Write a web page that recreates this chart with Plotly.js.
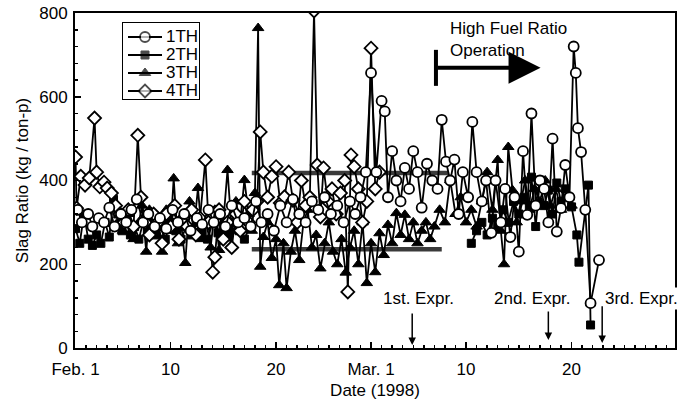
<!DOCTYPE html>
<html><head><meta charset="utf-8">
<script src="https://cdn.plot.ly/plotly-3.0.1.min.js"></script>
<style>html,body{margin:0;padding:0;background:#fff}#c{width:695px;height:403px}</style>
</head><body><div id="c"></div>
<script>
// Day index: 1 = Feb. 1, 29 = Mar. 1 (1998)
const tickDays = [1, 10, 20, 29, 38, 48];
const tickLabels = ["Feb. 1", "10", "20", "Mar. 1", "10", "20"];
const seriesNames = ["1TH", "2TH", "3TH", "4TH"];

const th1Days = [1.2,1.6,2.2,2.6,3.2,3.7,4.2,4.7,5.3,5.8,6.3,6.8,7.4,7.9,8.5,9.0,9.6,10.2,10.7,11.3,11.9,12.5,13.0,13.6,14.1,14.7,15.2,15.8,16.4,17.0,17.6,18.1,18.6,19.2,19.8,20.4,21.0,21.6,22.2,22.8,23.4,24.0,24.6,25.2,25.8,26.4,27.0,27.5,28.0,28.5,29.0,29.5,30.0,30.3,30.6,31.0,31.4,31.8,32.2,32.6,33.0,33.4,33.8,34.3,34.8,35.3,35.7,36.1,36.5,36.9,37.3,37.7,38.2,38.6,39.0,39.5,39.9,40.4,40.8,41.3,41.7,42.2,42.6,43.0,43.4,43.8,44.2,44.6,45.0,45.4,45.8,46.2,46.6,47.0,47.4,47.8,48.2,48.4,48.6,48.9,49.3,49.8,50.6];
const th1Vals = [330,300,320,290,310,300,335,290,320,300,330,355,300,320,290,310,285,330,300,320,280,310,295,330,300,320,290,340,300,310,290,350,300,320,280,340,300,355,320,300,350,330,360,320,340,300,350,320,360,420,657,420,590,565,360,470,400,350,430,380,470,420,335,440,400,380,545,445,400,450,320,420,360,540,420,350,400,275,400,300,380,265,360,230,470,318,560,340,400,380,300,500,278,334,437,360,720,657,525,468,330,107,210];

const th2Days = [1.0,1.4,1.8,2.2,2.6,3.0,3.4,3.8,4.2,4.6,5.0,5.4,5.8,6.2,6.6,7.0,7.4,7.8,8.2,8.6,9.0,9.5,10.0,10.5,11.0,11.5,12.0,12.5,13.0,13.5,14.0,14.5,15.0,15.5,16.0,16.5,17.0,17.5,null,38.5,39.0,39.5,40.0,40.5,41.0,41.5,42.0,42.5,43.0,43.5,44.0,44.2,44.6,45.0,45.4,45.8,46.2,46.6,47.0,47.4,48.0,48.5,48.7,49.6,49.8];
const th2Vals = [285,250,320,260,245,270,250,300,265,355,320,280,300,270,290,260,300,280,300,270,290,260,300,280,260,290,270,300,280,260,300,275,290,265,300,280,260,290,null,250,280,300,270,310,290,330,300,350,320,360,340,408,290,401,340,377,320,394,350,380,337,270,205,389,55];

const th3Days = [5.0,5.5,6.0,6.5,7.0,7.3,7.7,8.0,8.4,8.8,9.2,9.6,10.0,10.3,10.7,11.0,11.4,11.8,12.2,12.6,13.0,13.4,13.8,14.2,14.6,15.0,15.4,15.8,16.2,16.6,17.0,17.4,17.7,18.0,18.3,18.5,18.8,19.2,19.6,20.0,20.3,20.7,21.0,21.4,21.8,22.2,22.6,23.0,23.4,23.8,24.2,24.6,25.0,25.4,25.8,26.2,26.6,27.0,27.4,27.8,28.2,28.6,29.0,29.4,29.8,30.2,30.6,31.0,31.4,31.8,32.2,32.6,33.0,33.4,33.8,34.2,34.6,35.0,35.5,36.0,36.5,37.0,37.5,38.0,38.5,39.0,39.5,40.0,40.5,41.0,41.3,41.6,42.0,42.4,42.8,43.2,43.6,44.0,44.5,45.0,45.5,46.0,46.5,47.0,47.5,48.0];
const th3Vals = [300,280,320,260,300,340,230,330,280,300,230,330,280,405,250,300,203,350,280,382,260,300,240,330,234,300,425,280,350,300,401,320,280,370,764,194,265,300,215,260,150,250,143,230,280,210,300,330,240,270,190,250,300,230,200,260,180,240,280,200,300,155,250,181,274,222,294,250,322,270,318,260,300,250,280,300,260,290,330,300,401,320,360,300,330,290,350,420,330,449,280,200,480,377,300,350,400,330,380,350,400,340,380,330,360,340];

const th4Days = [1.0,1.1,1.5,1.9,2.3,2.8,3.0,3.3,3.7,4.0,4.4,4.8,5.2,5.6,6.0,6.5,6.9,7.2,7.6,8.0,8.4,8.8,9.2,9.6,10.0,10.4,10.8,11.2,11.6,12.0,12.4,12.8,13.3,13.6,14.0,14.2,14.6,15.0,15.4,15.8,16.2,16.6,17.0,17.4,17.8,18.2,18.5,18.8,19.2,19.6,20.0,20.4,20.8,21.2,21.6,22.0,22.4,22.8,23.2,23.6,23.9,24.2,24.5,24.9,25.3,25.7,26.1,26.5,26.8,27.1,27.4,27.8,28.2,28.6,29.0,29.4,29.8];
const th4Vals = [456,334,410,389,406,549,420,385,396,382,370,340,320,300,330,290,508,360,300,270,320,300,250,320,290,340,260,310,290,330,270,310,449,300,181,217,330,260,300,240,320,280,350,300,330,350,516,420,360,410,433,346,361,420,353,300,400,340,360,805,437,313,430,350,380,320,370,400,134,461,433,380,300,350,716,380,420];

// Reference levels drawn as thick bands
const upperBandDays = [17.7, 36.3];
const upperBandVals = [418, 418];
const lowerBandDays = [17.7, 35.7];
const lowerBandVals = [236, 236];

const FONT = "Liberation Sans, Arial, Helvetica, sans-serif";
const lineStyle = {color: "#000", width: 1.8};
const markers = [
  {symbol: "circle", size: 10, color: "#fff", line: {color: "#000", width: 1.8}},
  {symbol: "square", size: 8, color: "#000", line: {color: "#000", width: 1}},
  {symbol: "triangle-up", size: 10, color: "#000", line: {color: "#000", width: 1}},
  {symbol: "diamond", size: 10, color: "#fff", line: {color: "#000", width: 1.8}}
];

const traces = [
  {x: upperBandDays, y: upperBandVals, mode: "lines", line: {color: "#3a3a3a", width: 4.5}, hoverinfo: "skip"},
  {x: lowerBandDays, y: lowerBandVals, mode: "lines", line: {color: "#3a3a3a", width: 4.5}, hoverinfo: "skip"},
  {x: th2Days, y: th2Vals, name: seriesNames[1], mode: "lines+markers", connectgaps: false, line: lineStyle, marker: markers[1]},
  {x: th3Days, y: th3Vals, name: seriesNames[2], mode: "lines+markers", line: lineStyle, marker: markers[2]},
  {x: th4Days, y: th4Vals, name: seriesNames[3], mode: "lines+markers", line: lineStyle, marker: markers[3]},
  {x: th1Days, y: th1Vals, name: seriesNames[0], mode: "lines+markers", line: lineStyle, marker: markers[0]}
];

// Legend key drawn in its own small overlay axes (units = legend box pixels)
const legendRows = [37, 55, 73, 91];
seriesNames.forEach((n, i) => {
  traces.push({x: [128, 145, 162], y: [legendRows[i], legendRows[i], legendRows[i]],
    xaxis: "x2", yaxis: "y2", mode: "lines+markers", line: lineStyle,
    marker: Object.assign({}, markers[i], {size: [0, markers[i].size, 0]}), hoverinfo: "skip"});
});

const legendAnn = seriesNames.map((n, i) => ({xref: "x2", yref: "y2", x: 164, y: legendRows[i],
  xanchor: "left", yanchor: "middle", showarrow: false, text: n, font: {size: 17}}));

const layout = {
  width: 695, height: 403,
  margin: {l: 75, r: 20, t: 13, b: 55},
  paper_bgcolor: "#fff", plot_bgcolor: "#fff",
  font: {family: FONT, size: 17, color: "#000"},
  showlegend: false,
  xaxis: {
    range: [0.95, 57.8], tickmode: "array", tickvals: tickDays, ticktext: tickLabels,
    ticks: "inside", ticklen: 6, tickwidth: 1.5, tickcolor: "#000",
    minor: {tickmode: "linear", tick0: 1, dtick: 1, ticks: "inside", ticklen: 3, tickcolor: "#000"},
    showline: true, linecolor: "#000", linewidth: 2, mirror: true,
    showgrid: false, zeroline: false, ticklabelstandoff: 5,
    title: {text: "Date (1998)", font: {size: 17}, standoff: 6}
  },
  yaxis: {
    range: [0, 800], tickvals: [0, 200, 400, 600, 800],
    ticks: "inside", ticklen: 6, tickwidth: 1.5, tickcolor: "#000",
    minor: {tickmode: "linear", tick0: 0, dtick: 40, ticks: "inside", ticklen: 3, tickcolor: "#000"},
    showline: true, linecolor: "#000", linewidth: 2, mirror: true,
    showgrid: false, zeroline: false, ticklabelstandoff: 2,
    title: {text: "Slag Ratio (kg / ton-p)", font: {size: 17}, standoff: 6}
  },
  xaxis2: {domain: [(122 - 75) / 600, (200 - 75) / 600], range: [122, 200], anchor: "y2", visible: false, fixedrange: true},
  yaxis2: {domain: [1 - (100 - 13) / 335, 1 - (22 - 13) / 335], range: [100, 22], anchor: "x2", visible: false, fixedrange: true},
  shapes: [
    {type: "rect", xref: "x2", yref: "y2", x0: 122, x1: 200, y0: 22, y1: 100, line: {color: "#000", width: 2}, fillcolor: "rgba(255,255,255,1)", layer: "below"},
    {type: "line", xref: "x", yref: "y", x0: 35.15, x1: 35.15, y0: 626, y1: 712, line: {color: "#000", width: 4}}
  ],
  annotations: legendAnn.concat([
    {xref: "x", yref: "y", x: 36.3, y: 790, xanchor: "left", yanchor: "top", align: "left", showarrow: false,
     text: "High Fuel Ratio<br>Operation", font: {size: 17}},
    {xref: "x", yref: "y", axref: "x", ayref: "y", x: 45.06, y: 669, ax: 35.15, ay: 669, text: "",
     showarrow: true, arrowhead: 2, arrowsize: 1.6, arrowwidth: 4, arrowcolor: "#000"},
    {xref: "x", yref: "y", x: 33.45, y: 119, showarrow: false, text: "1st. Expr.", font: {size: 17}},
    {xref: "x", yref: "y", x: 44.3, y: 119, showarrow: false, text: "2nd. Expr.", font: {size: 17}},
    {xref: "x", yref: "y", x: 54.6, y: 119, showarrow: false, text: "3rd. Expr.", font: {size: 17}, bgcolor: "#fff"},
    {xref: "x", yref: "y", axref: "x", ayref: "y", x: 32.9, y: 7, ax: 32.9, ay: 86, text: "",
     showarrow: true, arrowhead: 2, arrowsize: 1, arrowwidth: 1.5, arrowcolor: "#000"},
    {xref: "x", yref: "y", axref: "x", ayref: "y", x: 45.8, y: 19, ax: 45.8, ay: 91, text: "",
     showarrow: true, arrowhead: 2, arrowsize: 1, arrowwidth: 1.5, arrowcolor: "#000"},
    {xref: "x", yref: "y", axref: "x", ayref: "y", x: 50.9, y: 12, ax: 50.9, ay: 103, text: "",
     showarrow: true, arrowhead: 2, arrowsize: 1, arrowwidth: 1.5, arrowcolor: "#000"}
  ])
};

Plotly.newPlot("c", traces, layout, {displayModeBar: false, staticPlot: true});
</script></body></html>
